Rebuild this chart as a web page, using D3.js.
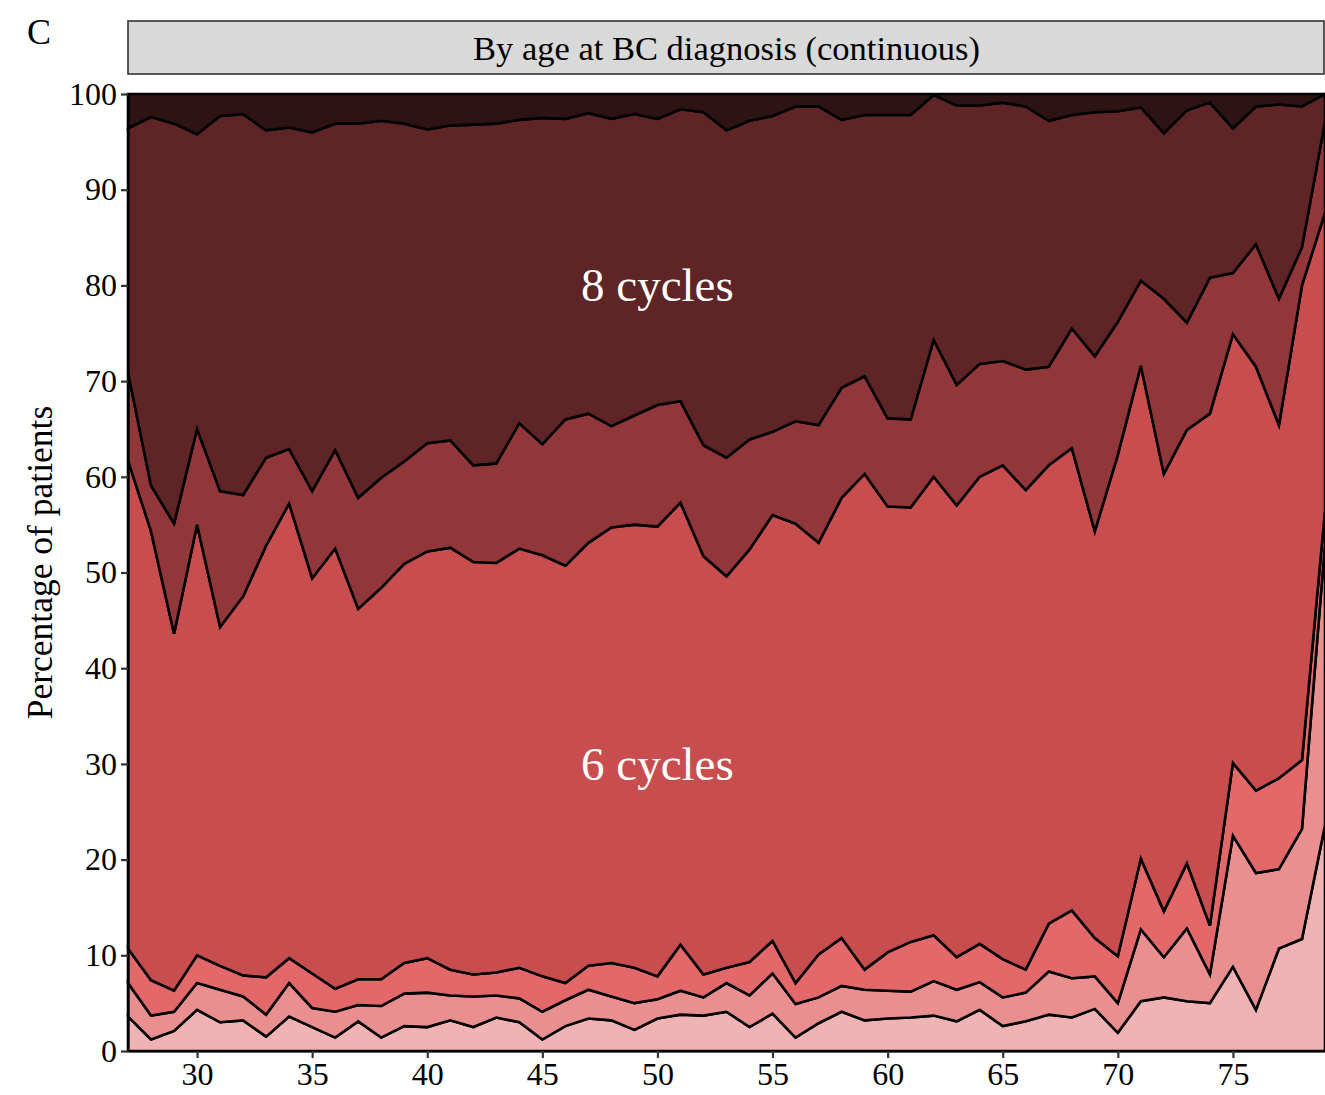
<!DOCTYPE html>
<html>
<head>
<meta charset="utf-8">
<script src="https://cdn.jsdelivr.net/npm/d3@7"></script>
<style>
  html, body { margin: 0; padding: 0; background: #ffffff; }
  svg { display: block; }
</style>
</head>
<body>
<svg id="chart" width="1325" height="1095"></svg>
<script>
// ---- Data (percentage of patients per number of cycles, by age at diagnosis) ----
const ages = [27,28,29,30,31,32,33,34,35,36,37,38,39,40,41,42,43,44,45,46,47,48,49,50,51,52,53,54,55,56,57,58,59,60,61,62,63,64,65,66,67,68,69,70,71,72,73,74,75,76,77,78,79];

const cyclesLe3 = [3.6,1.2,2.1,4.3,3.0,3.2,1.5,3.6,2.5,1.4,3.1,1.4,2.6,2.5,3.2,2.5,3.5,3.0,1.2,2.6,3.4,3.2,2.2,3.4,3.8,3.7,4.1,2.5,3.9,1.4,2.9,4.1,3.2,3.4,3.5,3.7,3.1,4.3,2.6,3.1,3.8,3.5,4.4,1.9,5.2,5.6,5.2,5.0,8.8,4.3,10.7,11.7,23.6];
const cycles4 = [3.5,2.5,2.0,2.8,3.4,2.5,2.3,3.5,2.0,2.7,1.7,3.3,3.4,3.6,2.6,3.2,2.3,2.5,2.9,2.7,3.0,2.5,2.8,2.0,2.5,1.9,3.0,3.3,4.2,3.5,2.7,2.7,3.2,2.9,2.7,3.6,3.3,2.9,3.0,3.0,4.5,4.1,3.4,3.1,7.5,4.2,7.6,3.0,13.7,14.3,8.3,11.5,29.4];
const cycles5 = [3.6,3.7,2.2,2.9,2.5,2.2,3.9,2.6,3.6,2.4,2.7,2.8,3.2,3.6,2.7,2.3,2.4,3.2,3.7,1.8,2.5,3.5,3.7,2.4,4.8,2.4,1.6,3.5,3.4,2.2,4.5,5.0,2.1,4.0,5.2,4.8,3.4,4.0,4.0,2.4,5.0,7.1,4.0,4.9,7.4,4.8,6.8,5.1,7.6,8.6,9.5,7.2,3.5];
const cycles6 = [51.0,46.9,37.3,45.0,35.4,39.6,45.1,47.5,41.3,46.0,38.7,40.9,41.7,42.5,44.1,43.1,42.8,43.8,44.0,43.6,44.2,45.5,46.3,47.0,46.2,43.7,40.9,43.1,44.5,48.0,43.0,46.0,51.8,46.6,45.4,47.9,47.2,48.8,51.6,50.1,47.9,48.3,42.5,52.4,51.5,45.7,45.3,53.5,44.8,44.3,36.9,49.6,31.1];
const cycles7 = [9.2,4.8,11.5,10.0,14.2,10.6,9.2,5.7,9.1,10.3,11.6,11.5,10.7,11.3,11.2,10.1,10.4,13.1,11.6,15.3,13.5,10.6,11.4,12.7,10.6,11.6,12.4,11.5,8.7,10.7,12.3,11.5,10.2,9.2,9.2,14.3,12.6,11.8,10.9,12.6,10.3,12.5,18.3,13.9,8.9,18.3,11.2,14.2,6.4,12.8,13.2,4.0,9.5];
const cycles8 = [25.5,38.5,41.8,30.8,39.2,39.8,34.2,33.6,37.5,34.1,39.1,37.3,35.3,32.8,32.9,35.6,35.5,31.7,34.1,31.4,31.4,32.1,31.5,29.9,30.5,34.8,34.2,33.3,33.0,32.9,33.3,28.0,27.3,31.7,31.8,25.6,29.2,27.0,27.0,27.5,25.7,22.3,25.5,22.0,18.1,17.3,22.2,18.3,15.1,14.4,20.3,14.7,2.9];
const cyclesGt8 = [3.6,2.4,3.1,4.2,2.3,2.1,3.8,3.5,4.0,3.1,3.1,2.8,3.1,3.7,3.3,3.2,3.1,2.7,2.5,2.6,2.0,2.6,2.1,2.6,1.6,1.9,3.8,2.8,2.3,1.3,1.3,2.7,2.2,2.2,2.2,0.1,1.2,1.2,0.9,1.3,2.8,2.2,1.9,1.8,1.4,4.1,1.7,0.9,3.6,1.3,1.1,1.3,0.0];

const seriesKeys = ["≤3 cycles","4 cycles","5 cycles","6 cycles","7 cycles","8 cycles",">8 cycles"];
const seriesValues = [cyclesLe3, cycles4, cycles5, cycles6, cycles7, cycles8, cyclesGt8];
const seriesColors = ["#efb3b3","#ea8f8f","#e3686a","#c84d4f","#923739","#5e2426","#2e1315"];

const xTicks = [30,35,40,45,50,55,60,65,70,75];
const yTicks = [0,10,20,30,40,50,60,70,80,90,100];

const areaLabels = [
  {text: "8 cycles", age: 50, value: 80},
  {text: "6 cycles", age: 50, value: 30}
];
const panelTitle = "By age at BC diagnosis (continuous)";
const panelLetter = "C";
const yTitle = "Percentage of patients";

// ---- Build table ----
const table = ages.map((a, i) => {
  const row = {age: a};
  seriesKeys.forEach((k, j) => { row[k] = seriesValues[j][i]; });
  return row;
});

// ---- Layout ----
const svg = d3.select("#chart");
const plot = {left: 128, right: 1325, top: 94, bottom: 1051};
const serif = "'Liberation Serif', 'Times New Roman', serif";

const x = d3.scaleLinear().domain([27, 79]).range([plot.left, plot.right]);
const y = d3.scaleLinear().domain([0, 100]).range([plot.bottom, plot.top]);

const stack = d3.stack().keys(seriesKeys);
const layers = stack(table);

const area = d3.area()
  .x(d => x(d.data.age))
  .y0(d => y(d[0]))
  .y1(d => y(d[1]))
  .curve(d3.curveLinear);

svg.append("g")
  .selectAll("path")
  .data(layers)
  .join("path")
  .attr("d", area)
  .attr("fill", (d, i) => seriesColors[i])
  .attr("stroke", "#000")
  .attr("stroke-width", 2.6)
  .attr("stroke-linejoin", "miter");

// area labels
svg.append("g")
  .selectAll("text")
  .data(areaLabels)
  .join("text")
  .attr("x", d => x(d.age))
  .attr("y", d => y(d.value))
  .attr("text-anchor", "middle")
  .attr("dominant-baseline", "central")
  .attr("fill", "#ffffff")
  .style("font-family", serif)
  .style("font-size", "47px")
  .text(d => d.text);

// axes
const yAxis = svg.append("g")
  .attr("transform", `translate(${plot.left},0)`)
  .call(d3.axisLeft(y).tickValues(yTicks).tickSize(7).tickSizeOuter(0).tickPadding(4));
yAxis.select(".domain").attr("stroke", "#000").attr("stroke-width", 2.2);
yAxis.selectAll(".tick line").attr("stroke", "#333").attr("stroke-width", 2.2);
yAxis.selectAll(".tick text")
  .attr("fill", "#000")
  .style("font-family", serif)
  .style("font-size", "32px");

const xAxis = svg.append("g")
  .attr("transform", `translate(0,${plot.bottom})`)
  .call(d3.axisBottom(x).tickValues(xTicks).tickSize(7).tickSizeOuter(0).tickPadding(4));
xAxis.select(".domain").attr("stroke", "#000").attr("stroke-width", 2.2);
xAxis.selectAll(".tick line").attr("stroke", "#333").attr("stroke-width", 2.2);
xAxis.selectAll(".tick text")
  .attr("fill", "#000")
  .style("font-family", serif)
  .style("font-size", "32px");

// y-axis title
svg.append("text")
  .attr("transform", `translate(40,${(plot.top + plot.bottom) / 2 - 10}) rotate(-90)`)
  .attr("text-anchor", "middle")
  .attr("dominant-baseline", "central")
  .attr("fill", "#000")
  .style("font-family", serif)
  .style("font-size", "35.5px")
  .text(yTitle);

// facet strip
svg.append("rect")
  .attr("x", plot.left)
  .attr("y", 21)
  .attr("width", plot.right - plot.left - 1)
  .attr("height", 53)
  .attr("fill", "#d9d9d9")
  .attr("stroke", "#333")
  .attr("stroke-width", 1.6);
svg.append("text")
  .attr("x", (plot.left + plot.right) / 2)
  .attr("y", 48)
  .attr("text-anchor", "middle")
  .attr("dominant-baseline", "central")
  .attr("fill", "#000")
  .style("font-family", serif)
  .style("font-size", "34.5px")
  .text(panelTitle);

// panel letter
svg.append("text")
  .attr("x", 27)
  .attr("y", 44)
  .attr("fill", "#000")
  .style("font-family", serif)
  .style("font-size", "36px")
  .text(panelLetter);
</script>
</body>
</html>
